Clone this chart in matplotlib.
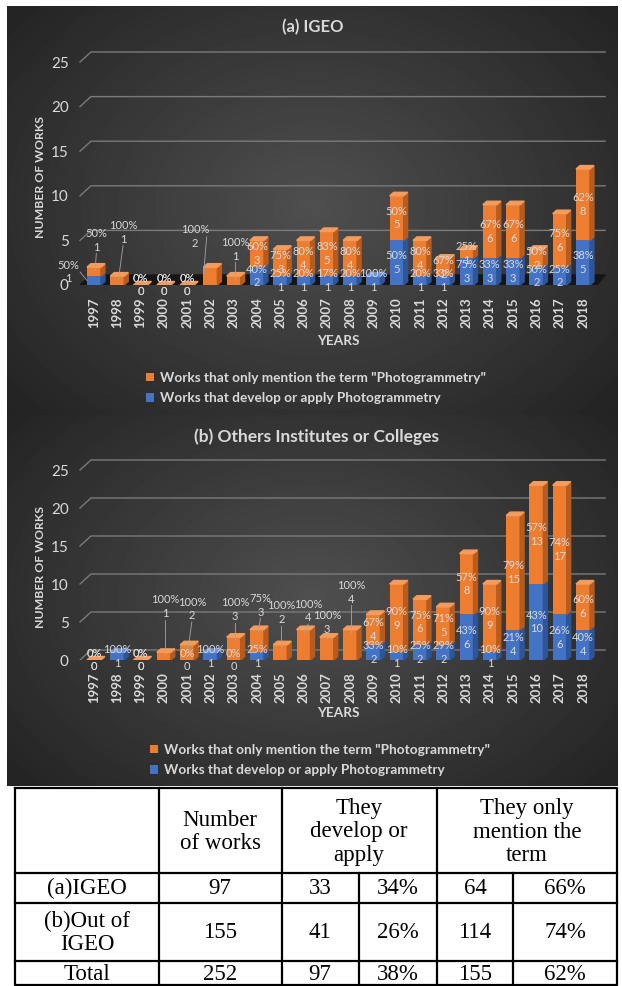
import numpy as np
import matplotlib
matplotlib.use("Agg")
import matplotlib.pyplot as plt

W, H = 622, 986

# -----------------------------
# Data
# -----------------------------
years = list(range(1997, 2019))

# (a) IGEO  (None = no label / blank cell)
igeo_apply = [1, None, 0, 0, 0, None, None, 2, 1, 1, 1, 1, 1, 5, 1, 1, 3, 3, 3, 2, 2, 5]
igeo_mention = [1, 1, 0, 0, 0, 2, 1, 3, 3, 4, 5, 4, None, 5, 4, 2, 1, 6, 6, 2, 6, 8]

# (b) Others Institutes or Colleges
others_apply = [0, 1, 0, None, 0, 1, 0, 1, None, None, None, None, 2, 1, 2, 2, 6, 1, 4, 10, 6, 4]
others_mention = [0, None, 0, 1, 2, None, 3, 3, 2, 4, 3, 4, 4, 9, 6, 5, 8, 9, 15, 13, 17, 6]

legend_labels = ['Works that only mention the term "Photogrammetry"',
                 "Works that develop or apply Photogrammetry"]

# summary table
table_header = ["", "Number\nof works", "They\ndevelop or\napply", "They only\nmention the\nterm"]
table_rows = ["(a)IGEO", "(b)Out of\nIGEO", "Total"]
table_total = [97, 155, 252]
table_apply = [33, 41, 97]
table_apply_pct = ["34%", "26%", "38%"]
table_mention = [64, 114, 155]
table_mention_pct = ["66%", "74%", "62%"]

# -----------------------------
# Styling / label placement
# -----------------------------
ORANGE, ORANGE_SIDE, ORANGE_TOP = "#ed7d31", "#b85b1d", "#f39c60"
BLUE, BLUE_SIDE, BLUE_TOP = "#4472c4", "#2e5597", "#6f93d6"
TXT = "#d9d9d9"
GRID = "#7a7a7a"
BAR_W = 0.6
FONT = "Lato"

# callout offsets (dx in years, dy in units above segment top)
callouts_a = {
    "mention": {1997: (0.1, 3.0), 1998: (0.25, 4.9), 2002: (-0.66, 3.4), 2003: (0.05, 3.0)},
    "apply": {1997: (-1.1, 0.46)},
}
callouts_b = {
    "mention": {2000: (0.05, 6.0), 2001: (0.2, 4.7), 2003: (0.05, 3.6), 2004: (0.15, 3.2),
                2005: (0.05, 4.25), 2006: (0.2, 2.45), 2007: (0.0, 1.9), 2008: (0.05, 4.9)},
    "apply": {},
}


def fx(px):
    return px / W


def fy(py):
    return 1 - py / H


def clean(vals):
    return np.array([0 if v is None else v for v in vals], dtype=float)


fig = plt.figure(figsize=(W / 100, H / 100), dpi=100)
fig.patch.set_facecolor("white")

# -----------------------------
# Dark radial background (two stacked chart panels)
# -----------------------------
bg = fig.add_axes([fx(7), fy(786), fx(618) - fx(7), fy(6) - fy(786)])
yy, xx = np.mgrid[0:780, 0:611]
d_top = np.sqrt(((xx - 305) / 420) ** 2 + ((yy - 200) / 320) ** 2)
d_bot = np.sqrt(((xx - 305) / 420) ** 2 + ((yy - 590) / 300) ** 2)
d = np.where(yy < 409, d_top, d_bot)
shade = 0.31 - 0.18 * np.clip(d, 0, 1.25)
bg.imshow(shade, cmap="gray", vmin=0, vmax=1, aspect="auto", interpolation="bilinear")
bg.axis("off")


def draw_chart(top_px, floor_px, ppu, apply_vals, mention_vals, callouts, black_floor):
    ax = fig.add_axes([fx(70), fy(floor_px), fx(610) - fx(70), fy(top_px) - fy(floor_px)])
    ax.set_xlim(1995.97, 2019.16)
    ax.set_ylim(0, (floor_px - top_px) / ppu)
    ax.patch.set_alpha(0)
    for s in ax.spines.values():
        s.set_visible(False)

    off = 10 / ppu
    dx, dy = 0.17, 3.5 / ppu
    gx0, gx1, cx0 = 1996.87, 2018.95, 1996.4

    # back-wall gridlines with the slanted connectors
    levels = range(5, 30, 5) if black_floor else range(0, 30, 5)
    for v in levels:
        ax.plot([cx0, gx0, gx1], [v, v + off, v + off], color=GRID, lw=1, zorder=1)
    if black_floor:
        ax.fill([cx0, gx0, gx1, gx1 - 0.35], [0, off, off, 0], color="#151515", zorder=1)

    b = clean(apply_vals)
    o = clean(mention_vals)
    tot = b + o
    bars_b = ax.bar(years, b, width=BAR_W, color=BLUE, zorder=3)
    bars_o = ax.bar(years, o, bottom=b, width=BAR_W, color=ORANGE, zorder=3)

    # 3D side and top faces
    for i, x in enumerate(years):
        xr = x + BAR_W / 2
        xl = x - BAR_W / 2
        if b[i] > 0:
            ax.fill([xr, xr + dx, xr + dx, xr], [0, dy, b[i] + dy, b[i]], color=BLUE_SIDE, zorder=3)
        if o[i] > 0:
            ax.fill([xr, xr + dx, xr + dx, xr], [b[i], b[i] + dy, tot[i] + dy, tot[i]],
                    color=ORANGE_SIDE, zorder=3)
        top_col = ORANGE_TOP if (o[i] > 0 or (b[i] == 0 and mention_vals[i] is not None)) else BLUE_TOP
        ax.fill([xl, xl + dx, xr + dx, xr], [tot[i], tot[i] + dy, tot[i] + dy, tot[i]],
                color=top_col, zorder=3)

    # data labels
    half = 13 / ppu
    for name, vals, bottoms in (("apply", apply_vals, np.zeros(len(years))), ("mention", mention_vals, b)):
        for i, v in enumerate(vals):
            if v is None:
                continue
            x = years[i]
            pct = round(100 * v / tot[i]) if tot[i] > 0 else 0
            y0 = bottoms[i]
            y1 = y0 + v
            label = f"{pct}%\n{v}"
            if x in callouts[name]:
                cdx, cdy = callouts[name][x]
                lx, ly = x + cdx, y1 + cdy
                if cdx < -0.5:
                    ax.plot([lx + 0.5, x - BAR_W / 2], [ly, (y0 + y1) / 2], color="#a6a6a6", lw=0.6, zorder=4)
                else:
                    ax.plot([lx, x + 0.05], [ly - half, y1 - 0.4], color="#a6a6a6", lw=0.6, zorder=4)
            else:
                lx, ly = x, (y0 + y1) / 2
            ax.text(lx, ly, label, ha="center", va="center", color=TXT, fontsize=8,
                    family=FONT, linespacing=1.3, zorder=5, clip_on=False)

    ax.set_yticks(range(0, 30, 5))
    ax.set_yticklabels([str(v) for v in range(0, 30, 5)], color=TXT, fontsize=11, family=FONT)
    ax.set_xticks(years)
    ax.set_xticklabels([str(y) for y in years], rotation=90, color=TXT, fontsize=9.5,
                       fontweight="bold", family=FONT)
    ax.tick_params(axis="y", length=0, pad=1)
    ax.tick_params(axis="x", length=0, pad=9)
    return ax, bars_o, bars_b


ax_a, ho_a, hb_a = draw_chart(40, 285, 8.92, igeo_apply, igeo_mention, callouts_a, True)
ax_b, ho_b, hb_b = draw_chart(445, 660, 7.6, others_apply, others_mention, callouts_b, False)

# -----------------------------
# Titles, axis labels, legends
# -----------------------------
fig.text(fx(313), fy(27), "(a) IGEO", ha="center", va="center", color=TXT,
         fontsize=12, fontweight="bold", family=FONT)
fig.text(fx(317), fy(437), "(b) Others Institutes or Colleges", ha="center", va="center",
         color=TXT, fontsize=12.5, fontweight="bold", family=FONT)
for ycen in (177, 567):
    fig.text(fx(40), fy(ycen), "NUMBER OF WORKS", rotation=90, ha="center", va="center",
             color=TXT, fontsize=8.8, fontweight="bold", family=FONT)
for ycen in (341, 713):
    fig.text(fx(338), fy(ycen), "YEARS", ha="center", va="center", color=TXT,
             fontsize=9.8, fontweight="bold", family=FONT)

for ax, hs, xleft, ycen in ((ax_a, (ho_a, hb_a), 146, 388), (ax_b, (ho_b, hb_b), 150, 760)):
    ax.legend(hs, legend_labels, loc="center left", bbox_to_anchor=(fx(xleft), fy(ycen)),
              bbox_transform=fig.transFigure, frameon=False, borderpad=0, borderaxespad=0,
              handlelength=0.6, handleheight=0.6, handletextpad=0.4, labelspacing=0.6,
              prop={"family": FONT, "weight": "bold", "size": 9.8}, labelcolor=TXT)

# -----------------------------
# Summary table (pixel overlay)
# -----------------------------
tab = fig.add_axes([0, 0, 1, 1])
tab.set_xlim(0, W)
tab.set_ylim(H, 0)
tab.axis("off")

xl, xr, yt, yb = 15, 617, 788, 985
col_x = [15, 159, 282, 359, 437, 513, 617]
row_y = [788, 873, 903, 961, 985]
lw = 1.6
tab.plot([xl, xr, xr, xl, xl], [yt, yt, yb, yb, yt], color="black", lw=lw)
for y in row_y[1:-1]:
    tab.plot([xl, xr], [y, y], color="black", lw=lw)
for x in (159, 282, 437):
    tab.plot([x, x], [yt, yb], color="black", lw=lw)
for x in (359, 513):
    tab.plot([x, x], [row_y[1], yb], color="black", lw=lw)

serif = {"family": "Liberation Serif", "fontsize": 16.5, "color": "black"}
head_cx = [87, 220, 359, 527]
for cx, txt in zip(head_cx, table_header):
    tab.text(cx, 832, txt, ha="center", va="center", linespacing=1.15, **serif)

col_cx = [87, 220, 320, 398, 475, 565]
row_cy = [888, 933, 975]
for r, cy in enumerate(row_cy):
    cells = [table_rows[r], table_total[r], table_apply[r], table_apply_pct[r],
             table_mention[r], table_mention_pct[r]]
    for cx, val in zip(col_cx, cells):
        tab.text(cx, cy, str(val), ha="center", va="center", linespacing=1.15, **serif)

fig.savefig("out.png", dpi=100, facecolor="white")
